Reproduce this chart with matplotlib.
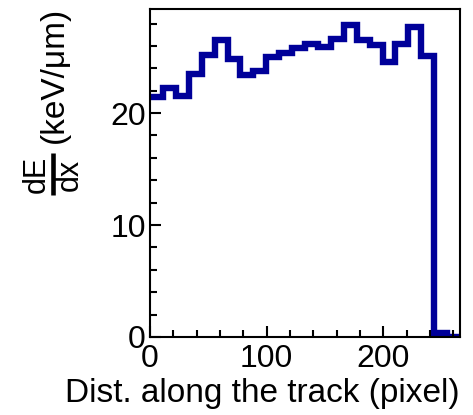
import numpy as np
import matplotlib
matplotlib.use("Agg")
import matplotlib.pyplot as plt
from matplotlib.lines import Line2D
from matplotlib.ticker import MultipleLocator

plt.rcParams['font.family'] = ['Liberation Sans', 'DejaVu Sans']

# Energy deposit per bin along the track
x_min = 0.0
x_max = 265.7
n_bins = 24
dedx = [21.4, 22.2, 21.5, 23.5, 25.2, 26.5, 24.8, 23.4, 23.8, 25.0, 25.4, 25.8,
        26.2, 25.9, 26.6, 27.9, 26.5, 26.1, 24.6, 26.2, 27.7, 25.1, 0.35, 0.0]

edges = np.linspace(x_min, x_max, n_bins + 1)

W, H = 473, 415
fig = plt.figure(figsize=(W / 100, H / 100), dpi=100)
ax = fig.add_axes([150 / W, 1 - 337 / H, (460 - 150) / W, (337 - 9) / H])

ax.stairs(dedx, edges, color='#000099', linewidth=4.6, baseline=None)

ax.set_xlim(x_min, x_max)
ax.set_ylim(0, 29.3)

ax.xaxis.set_major_locator(MultipleLocator(100))
ax.xaxis.set_minor_locator(MultipleLocator(20))
ax.yaxis.set_major_locator(MultipleLocator(10))
ax.yaxis.set_minor_locator(MultipleLocator(2))

ax.tick_params(which='both', direction='in', top=False, right=False,
               labelsize=23, width=1.5)
ax.tick_params(axis='x', pad=5)
ax.tick_params(axis='y', pad=3)
ax.tick_params(which='major', length=8)
ax.tick_params(which='minor', length=5)
for s in ax.spines.values():
    s.set_linewidth(1.5)

ax.set_xlabel('Dist. along the track (pixel)', fontsize=24, loc='right', labelpad=3)


def px(x, y):
    """Pixel position (from top-left) to figure fraction."""
    return x / W, 1 - y / H


# Y-axis title: dE/dx fraction followed by the unit, rotated
fig.text(*px(45, 174), 'dE', fontsize=22, rotation=90, rotation_mode='anchor',
         ha='center', va='baseline')
fig.text(*px(78, 175), 'dx', fontsize=22, rotation=90, rotation_mode='anchor',
         ha='center', va='baseline')
x0, y0 = px(52.5, 153)
x1, y1 = px(52.5, 195)
fig.add_artist(Line2D([x0, x1], [y0, y1], transform=fig.transFigure,
                      color='black', linewidth=3.3, solid_capstyle='butt'))
fig.text(*px(63, 7), '(keV/μm)', fontsize=24, rotation=90, rotation_mode='anchor',
         ha='right', va='baseline')

fig.savefig('out.png', dpi=100)
